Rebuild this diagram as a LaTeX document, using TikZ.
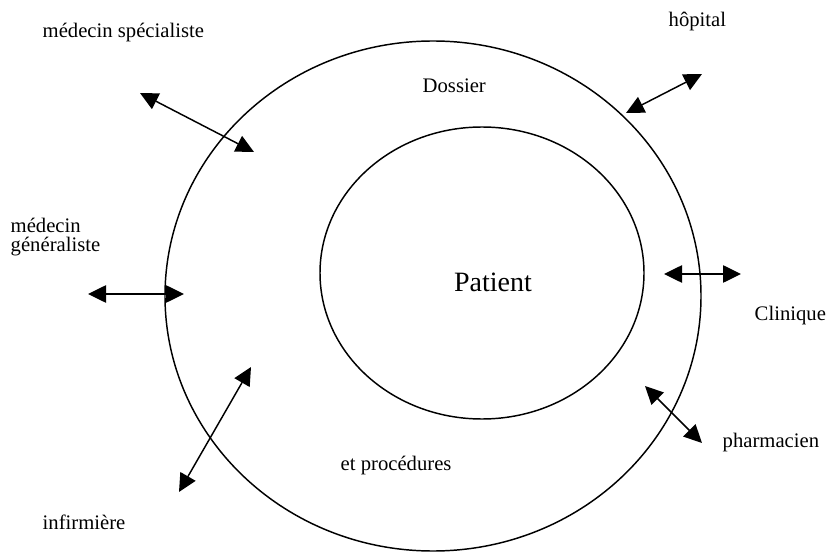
\documentclass[tikz,border=0pt]{standalone}
\usepackage{fontspec}
\setmainfont{Liberation Serif}
\usetikzlibrary{arrows.meta}

\tikzset{every picture/.style={line width=1.1pt}}
\tikzset{
  twoway/.style={{Triangle[length=13.5pt,width=13pt]}-{Triangle[length=13.5pt,width=13pt]},line width=1.1pt},
  ring/.style={line width=1.1pt},
  lbl/.style={font=\fontsize{15.5}{18}\selectfont,inner sep=0pt,anchor=west},
}

\begin{document}
\begin{tikzpicture}[x=0.75pt,y=0.75pt,yscale=-1,xscale=1]
	\useasboundingbox (0,0) rectangle (835,552);

	%Shape: Ellipse [id:outer]
	\draw [ring] (433,296) ellipse [x radius=268, y radius=255];
	%Shape: Ellipse [id:inner]
	\draw [ring] (482,273) ellipse [x radius=162, y radius=146];

	% Text Node
	\node [lbl] (specialiste) at (42,33) {médecin spécialiste};
	% Text Node
	\node [lbl] (hopital) at (668,22) {hôpital};
	% Text Node
	\node [lbl] (dossier) at (422,86) {Dossier};
	% Text Node
	\node [lbl] (medecin) at (10,225) {médecin};
	% Text Node
	\node [lbl] (generaliste) at (10,247) {généraliste};
	% Text Node
	\node [font=\fontsize{21}{25}\selectfont,inner sep=0pt] (patient) at (493,282) {Patient};
	% Text Node
	\node [lbl] (clinique) at (754,316) {Clinique};
	% Text Node
	\node [lbl] (pharmacien) at (722,443) {pharmacien};
	% Text Node
	\node [lbl] (procedures) at (340,466) {et procédures};
	% Text Node
	\node [lbl] (infirmiere) at (42,522) {infirmière};

	%Straight Lines [id:spec]
	\coordinate (spec1) at (140,93);
	\coordinate (spec2) at (254,152);
	\draw [twoway] (spec1) -- (spec2);
	%Straight Lines [id:hop]
	\coordinate (hop1) at (626,113);
	\coordinate (hop2) at (702,74);
	\draw [twoway] (hop1) -- (hop2);
	%Straight Lines [id:gen]
	\coordinate (gen1) at (88,294);
	\coordinate (gen2) at (184,294);
	\draw [twoway] (gen1) -- (gen2);
	%Straight Lines [id:clin]
	\coordinate (clin1) at (664,274);
	\coordinate (clin2) at (741,274);
	\draw [twoway] (clin1) -- (clin2);
	%Straight Lines [id:pharm]
	\coordinate (pharm1) at (645,386);
	\coordinate (pharm2) at (702,443);
	\draw [twoway] (pharm1) -- (pharm2);
	%Straight Lines [id:inf]
	\coordinate (inf1) at (179,492);
	\coordinate (inf2) at (251,367);
	\draw [twoway] (inf1) -- (inf2);

\end{tikzpicture}
\end{document}
